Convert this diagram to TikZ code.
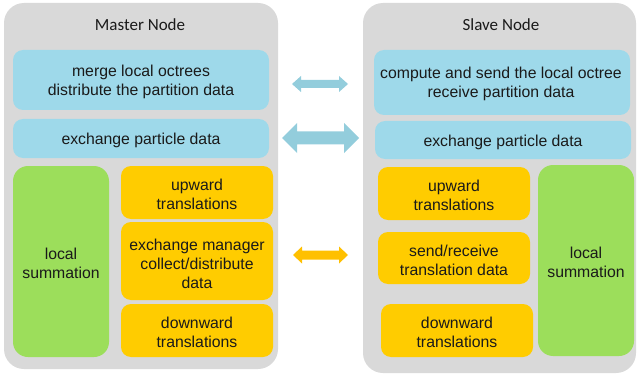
\documentclass[tikz,border=0pt]{standalone}
\usepackage{fontspec}
\setmainfont{Liberation Sans}
\newfontfamily\titlefont{Carlito}
\definecolor{panelgray}{HTML}{D9D9D9}
\definecolor{boxblue}{HTML}{9ED9EA}
\definecolor{arrowblue}{HTML}{93CDDC}
\definecolor{boxyellow}{HTML}{FFCC00}
\definecolor{arroworange}{HTML}{FFC000}
\definecolor{boxgreen}{HTML}{9CDE5B}
\definecolor{txt}{HTML}{1A1A1A}
\begin{document}
\begin{tikzpicture}[x=1pt,y=-1pt,
  panel/.style={fill=panelgray,rounded corners=20pt},
  paneltitle/.style={font=\titlefont\fontsize{17}{20}\selectfont,text=txt,inner sep=0},
  boxtext/.style={font=\fontsize{15.8}{19}\selectfont,text=txt,align=center,inner sep=0},
  bluebox/.style={fill=boxblue,rounded corners=10pt},
  yellowbox/.style={fill=boxyellow,rounded corners=10pt},
  greenbox/.style={fill=boxgreen,rounded corners=15pt}]
\useasboundingbox (0,0) rectangle (637,377);
% panels
\fill[panel] (4,3) rectangle (278,369);
\fill[panel] (363,3) rectangle (636,373);
\node[paneltitle] (mtitle) at (140,25) {Master Node};
\node[paneltitle] (stitle) at (501,25) {Slave Node};
% master boxes
\fill[bluebox] (13,50) rectangle (269,110);
\node[boxtext] (m1) at (141,82) {merge local octrees\\distribute the partition data};
\fill[bluebox] (13,119) rectangle (269,158);
\node[boxtext] (m2) at (141,140) {exchange particle data};
\fill[greenbox] (13,166) rectangle (109,357);
\node[boxtext] (mg) at (61,263) {local\\summation};
\fill[yellowbox] (121,166) rectangle (273,219);
\node[boxtext] (my1) at (197,194) {upward\\translations};
\fill[yellowbox] (121,222) rectangle (273,300);
\node[boxtext] (my2) at (197,264) {exchange manager\\collect/distribute\\data};
\fill[yellowbox] (121,304) rectangle (273,357);
\node[boxtext] (my3) at (197,332) {downward\\translations};
% slave boxes
\fill[bluebox] (374,50) rectangle (630,115);
\node[boxtext] (s1) at (501,84) {compute and send the local octree\\receive partition data};
\fill[bluebox] (375,121) rectangle (631,159);
\node[boxtext] (s2) at (503,142) {exchange particle data};
\fill[yellowbox] (378,167) rectangle (530,220);
\node[boxtext] (sy1) at (454,195) {upward\\translations};
\fill[yellowbox] (378,232) rectangle (530,284);
\node[boxtext] (sy2) at (454,260) {send/receive\\translation data};
\fill[yellowbox] (381,304) rectangle (533,357);
\node[boxtext] (sy3) at (457,332) {downward\\translations};
\fill[greenbox] (538,165) rectangle (634,356);
\node[boxtext] (sg) at (586,262) {local\\summation};
% double arrows
\fill[arrowblue] (292,84) -- (301,76) -- (301,80) -- (339,80) -- (339,76) -- (348,84)
  -- (339,92) -- (339,88) -- (301,88) -- (301,92) -- cycle;
\fill[arrowblue] (282,138) -- (297,123) -- (297,131.5) -- (344,131.5) -- (344,123) -- (359,138)
  -- (344,153) -- (344,144.5) -- (297,144.5) -- (297,153) -- cycle;
\fill[arroworange] (293,255) -- (302,246.5) -- (302,250.5) -- (339,250.5) -- (339,246.5) -- (348,255)
  -- (339,263.5) -- (339,259.5) -- (302,259.5) -- (302,263.5) -- cycle;
\end{tikzpicture}
\end{document}
